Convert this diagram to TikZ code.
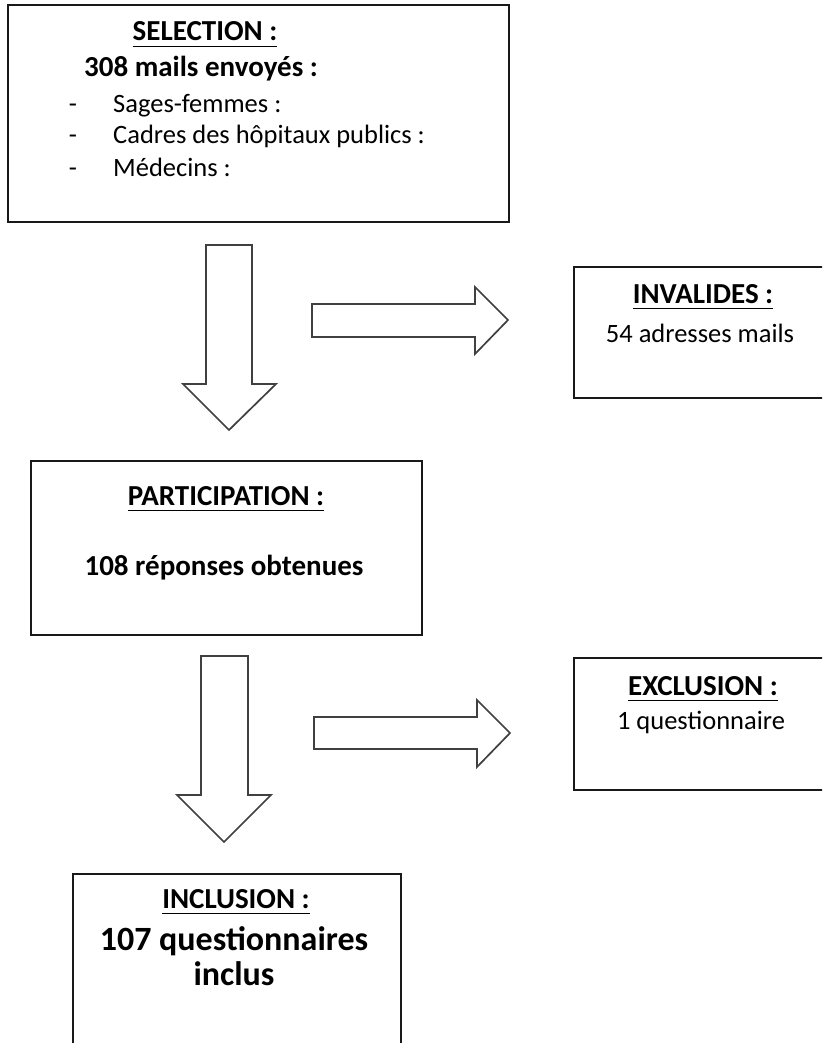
\documentclass[tikz,border=0pt]{standalone}
\usepackage{fontspec}
\setmainfont{Carlito}
\newcommand\ulx[1]{\setbox0\hbox{#1}\rlap{\raisebox{-6pt}{\rule{\wd0}{1.4pt}}}\box0}
\newcommand\fs[1]{\fontsize{#1}{#1}\selectfont}
\begin{document}
\begin{tikzpicture}[x=1pt,y=-1pt,
  box/.style={draw=black!90,line width=1.8pt,inner sep=0pt,outer sep=0pt,anchor=north west},
  blk/.style={draw=black!75,line width=1.7pt,fill=white,line join=miter},
  txt/.style={inner sep=0pt,anchor=base,text=black}]
\useasboundingbox (0,0) rectangle (822,1043);
\clip (0,0) rectangle (822,1043);
% boxes
\node[box,minimum width=501pt,minimum height=217pt] (sel) at (8,5) {};
\node[box,minimum width=256pt,minimum height=131pt] (inv) at (574,267) {};
\node[box,minimum width=391pt,minimum height=174pt] (par) at (31,461) {};
\node[box,minimum width=256pt,minimum height=132pt] (exc) at (574,658) {};
\node[box,minimum width=328pt,minimum height=190pt] (inc) at (73,874) {};
% block arrows
\draw[blk] (206,245) -- (252,245) -- (252,384) -- (276,384) -- (229,430) -- (183,384) -- (206,384) -- cycle;
\draw[blk] (312,304) -- (475,304) -- (475,287) -- (508,320) -- (475,354) -- (475,337) -- (312,337) -- cycle;
\draw[blk] (201,656) -- (248,656) -- (248,795) -- (271,795) -- (224,842) -- (177,795) -- (201,795) -- cycle;
\draw[blk] (314,717) -- (477,717) -- (477,700) -- (510,733) -- (477,767) -- (477,749) -- (314,749) -- cycle;
% texts
\node[txt] (t1) at (205,41) {\fs{29}\bfseries\ulx{SELECTION :}};
\node[txt] (t2) at (201,77) {\fs{29}\bfseries 308 mails envoyés :};
\node[txt] (b1) at (73,113) {\fs{26.5}-};
\node[txt] (b2) at (73,144) {\fs{26.5}-};
\node[txt] (b3) at (73,176) {\fs{26.5}-};
\node[txt,anchor=base west] (l1) at (113,113) {\fs{26.5}Sages-femmes :};
\node[txt,anchor=base west] (l2) at (113,144) {\fs{26.5}Cadres des hôpitaux publics :};
\node[txt,anchor=base west] (l3) at (113,176) {\fs{26.5}Médecins :};
\node[txt] (i1) at (703,303) {\fs{29}\bfseries\ulx{INVALIDES :}};
\node[txt] (i2) at (700,342) {\fs{26.5}54 adresses mails};
\node[txt] (p1) at (226,505) {\fs{29}\bfseries\ulx{PARTICIPATION :}};
\node[txt] (p2) at (224,575) {\fs{29}\bfseries 108 réponses obtenues};
\node[txt] (e1) at (703,695) {\fs{29}\bfseries\ulx{EXCLUSION :}};
\node[txt] (e2) at (701,729) {\fs{26.5}1 questionnaire};
\node[txt] (n1) at (236,908) {\fs{29}\bfseries\ulx{INCLUSION :}};
\node[txt] (n2) at (234,950) {\fs{34}\bfseries 107 questionnaires};
\node[txt] (n3) at (234,985) {\fs{34}\bfseries inclus};
\end{tikzpicture}
\end{document}
